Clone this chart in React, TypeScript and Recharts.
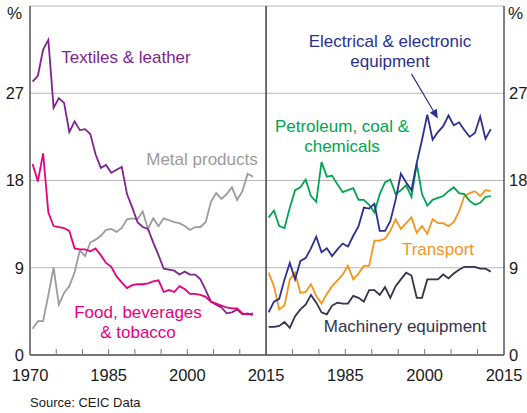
import React from "react";
import { LineChart, Line, XAxis, YAxis, CartesianGrid, ReferenceLine } from "recharts";

const years = [
  1970, 1971, 1972, 1973, 1974, 1975, 1976, 1977, 1978, 1979, 1980, 1981, 1982, 1983, 1984,
  1985, 1986, 1987, 1988, 1989, 1990, 1991, 1992, 1993, 1994, 1995, 1996, 1997, 1998, 1999,
  2000, 2001, 2002, 2003, 2004, 2005, 2006, 2007, 2008, 2009, 2010, 2011, 2012,
];

// left panel
const textiles = [
  28.2, 28.8, 31.5, 32.5, 25.5, 26.5, 26.0, 23.0, 24.1, 23.2, 23.3, 22.8, 20.7, 19.3, 19.6,
  18.8, 19.1, 19.4, 16.6, 15.2, 13.7, 13.2, 13.0, 11.6, 10.3, 8.9, 8.8, 8.7, 8.3, 8.6,
  8.3, 8.3, 7.8, 6.7, 5.5, 5.2, 4.9, 4.3, 4.4, 4.7, 4.2, 4.3, 4.1,
];
const food = [
  19.7, 17.9, 20.8, 14.7, 13.3, 13.2, 13.1, 12.8, 11.0, 10.9, 10.9, 10.7, 11.0, 10.3, 9.5,
  9.1, 8.1, 7.5, 6.9, 7.2, 7.3, 7.3, 7.4, 7.6, 7.7, 6.5, 6.7, 6.5, 7.1, 6.8,
  6.3, 6.3, 6.2, 6.0, 5.5, 5.3, 5.1, 4.9, 4.8, 4.8, 4.3, 4.2, 4.3,
];
const metal = [
  2.7, 3.5, 3.5, 6.2, 9.0, 5.2, 6.4, 7.1, 8.5, 10.8, 10.2, 11.6, 11.9, 12.3, 12.9,
  13.0, 12.7, 13.1, 14.0, 14.1, 14.0, 14.8, 13.0, 14.1, 13.3, 14.1, 13.9, 13.7, 13.6, 13.3,
  12.9, 13.2, 13.2, 13.7, 15.8, 16.7, 16.1, 16.6, 17.3, 16.0, 16.9, 18.7, 18.4,
];

// right panel
const electrical = [
  4.4, 5.5, 5.8, 7.8, 9.5, 7.8, 9.7, 10.0, 11.0, 12.2, 10.6, 11.0, 10.2, 10.9, 11.5,
  11.2, 12.3, 13.3, 15.2, 15.1, 15.6, 12.8, 12.8, 13.8, 16.0, 18.7, 17.8, 17.0, 19.8, 22.2,
  24.8, 22.2, 23.0, 23.6, 24.7, 23.7, 24.0, 23.2, 22.5, 22.9, 24.6, 22.3, 23.3,
];
const petroleum = [
  14.2, 14.9, 13.3, 13.1, 15.2, 17.0, 17.3, 18.1, 16.4, 15.8, 19.9, 18.4, 18.5, 17.6, 16.8,
  17.0, 17.2, 16.0, 16.0, 15.5, 14.7, 16.6, 17.8, 18.1, 16.6, 17.0, 17.5, 16.3, 19.7, 16.6,
  15.4, 16.0, 16.2, 16.4, 16.9, 17.3, 16.7, 16.6, 15.9, 15.5, 15.7, 16.3, 16.4,
];
const transport = [
  8.5, 7.1, 4.7, 5.1, 7.8, 8.5, 6.4, 6.5, 7.3, 6.1, 5.3, 6.3, 7.1, 7.7, 8.3,
  9.2, 7.8, 8.4, 9.2, 9.2, 11.8, 11.8, 12.0, 12.8, 14.0, 13.0, 13.6, 14.2, 12.6, 13.3,
  12.5, 14.0, 13.6, 13.6, 13.3, 13.7, 14.8, 16.4, 16.7, 16.9, 16.4, 17.0, 16.9,
];
const machinery = [
  2.9, 2.9, 3.0, 3.4, 2.8, 4.0, 4.7, 5.2, 6.2, 5.4, 4.4, 4.2, 5.1, 5.4, 5.3,
  5.3, 6.1, 5.9, 5.5, 6.7, 6.7, 6.2, 7.0, 5.9, 7.1, 7.8, 8.5, 8.2, 5.9, 5.9,
  7.8, 7.8, 7.8, 8.3, 7.9, 8.4, 8.8, 9.1, 9.1, 9.1, 8.9, 8.9, 8.6,
];

const yTicks = [0, 9, 18, 27, 36];
const xTicks = [1970, 1975, 1980, 1985, 1990, 1995, 2000, 2005, 2010, 2015];

const leftData = years.map((y, i) => ({
  x: y + 0.5,
  textiles: textiles[i],
  food: food[i],
  metal: metal[i],
}));
const rightData = years.map((y, i) => ({
  x: y + 0.5,
  electrical: electrical[i],
  petroleum: petroleum[i],
  transport: transport[i],
  machinery: machinery[i],
}));

const FONT = "'Liberation Sans', Arial, sans-serif";
const FRAME = "#555";
const GRID = "#b8b8b8";

const C = {
  textiles: "#80258f",
  food: "#e6007e",
  metal: "#9b9b9b",
  electrical: "#2b3090",
  petroleum: "#00a54f",
  transport: "#f7941d",
  machinery: "#33334d",
};

function YearTick(props: any) {
  const { x, y, payload, hideFirst } = props;
  const v = payload.value;
  const showLabel = (v - 1970) % 15 === 0 && !(hideFirst && v === 1970);
  const inner = v !== 1970 && v !== 2015;
  return (
    <g>
      {inner && <line x1={x} x2={x} y1={y} y2={y - 6} stroke="#777" strokeWidth={1} />}
      {showLabel && (
        <text x={x} y={y + 26} textAnchor="middle" fontSize={16.5} fill="#1a1a1a" fontFamily={FONT}>
          {v}
        </text>
      )}
    </g>
  );
}

function Arrow(props: any) {
  const { x1, y1, x2, y2 } = props;
  const a = Math.atan2(y2 - y1, x2 - x1);
  const L = 9;
  const W = 4;
  const bx = x2 - L * Math.cos(a);
  const by = y2 - L * Math.sin(a);
  const px = -Math.sin(a) * W;
  const py = Math.cos(a) * W;
  return (
    <g>
      <line x1={x1} y1={y1} x2={bx} y2={by} stroke={C.electrical} strokeWidth={1.2} />
      <polygon points={`${x2},${y2} ${bx + px},${by + py} ${bx - px},${by - py}`} fill={C.electrical} />
    </g>
  );
}

const labelStyle = (color: string, left: number, top: number, width: number): React.CSSProperties => ({
  position: "absolute",
  left,
  top,
  width,
  textAlign: "center",
  color,
  fontFamily: FONT,
  fontSize: 17,
  lineHeight: "20px",
  whiteSpace: "nowrap",
});

export default function App() {
  const lineProps = { type: "linear" as const, dot: false, strokeWidth: 1.8, isAnimationActive: false };
  return (
    <div style={{ position: "absolute", left: 0, top: 0, width: 527, height: 413, background: "#fff", fontFamily: FONT }}>
      <div style={{ position: "absolute", left: 266, top: 0 }}>
        <LineChart width={261} height={413} data={rightData} margin={{ top: 6, right: 0, left: 0, bottom: 28 }}>
          <CartesianGrid horizontal vertical={false} stroke={GRID} />
          <XAxis
            type="number"
            dataKey="x"
            domain={[1970, 2015]}
            ticks={xTicks}
            interval={0}
            height={30}
            tickSize={0}
            tickMargin={0}
            tickLine={false}
            axisLine={{ stroke: FRAME, strokeWidth: 1.5 }}
            tick={<YearTick hideFirst />}
            allowDataOverflow
          />
          <YAxis
            orientation="right"
            type="number"
            domain={[0, 36]}
            ticks={yTicks}
            width={23}
            tickSize={0}
            tickMargin={5}
            tickLine={false}
            axisLine={{ stroke: FRAME, strokeWidth: 1.5 }}
            tick={{ fontSize: 16.5, fill: "#1a1a1a", fontFamily: FONT }}
            tickFormatter={(v: number) => (v === 36 ? "" : String(v))}
          />
          <ReferenceLine x={1970} stroke={FRAME} strokeWidth={1.5} />
          <ReferenceLine
            segment={[
              { x: 1997.5, y: 29.0 },
              { x: 2002.5, y: 24.4 },
            ]}
            shape={<Arrow />}
          />
          <Line dataKey="machinery" stroke={C.machinery} {...lineProps} />
          <Line dataKey="transport" stroke={C.transport} {...lineProps} />
          <Line dataKey="petroleum" stroke={C.petroleum} {...lineProps} />
          <Line dataKey="electrical" stroke={C.electrical} {...lineProps} />
        </LineChart>
      </div>
      <div style={{ position: "absolute", left: 0, top: 0 }}>
        <LineChart width={296} height={413} data={leftData} margin={{ top: 6, right: 30, left: 0, bottom: 28 }}>
          <CartesianGrid horizontal vertical={false} stroke={GRID} />
          <XAxis
            type="number"
            dataKey="x"
            domain={[1970, 2015]}
            ticks={xTicks}
            interval={0}
            height={30}
            tickSize={0}
            tickMargin={0}
            tickLine={false}
            axisLine={{ stroke: FRAME, strokeWidth: 1.5 }}
            tick={<YearTick />}
            allowDataOverflow
          />
          <YAxis
            type="number"
            domain={[0, 36]}
            ticks={yTicks}
            width={30}
            tickSize={0}
            tickMargin={6}
            tickLine={false}
            axisLine={{ stroke: FRAME, strokeWidth: 1.5 }}
            tick={{ fontSize: 16.5, fill: "#1a1a1a", fontFamily: FONT }}
            tickFormatter={(v: number) => (v === 36 ? "" : String(v))}
          />
          <ReferenceLine x={2015} stroke={FRAME} strokeWidth={1.5} />
          <Line dataKey="metal" stroke={C.metal} {...lineProps} />
          <Line dataKey="textiles" stroke={C.textiles} {...lineProps} />
          <Line dataKey="food" stroke={C.food} {...lineProps} />
        </LineChart>
      </div>

      <div style={{ position: "absolute", left: 7, top: 4, fontSize: 17, color: "#1a1a1a" }}>%</div>
      <div style={{ position: "absolute", left: 508, top: 4, fontSize: 17, color: "#1a1a1a" }}>%</div>

      <div style={labelStyle(C.textiles, 46, 48, 160)}>Textiles &amp; leather</div>
      <div style={labelStyle(C.metal, 132, 150, 140)}>Metal products</div>
      <div style={labelStyle(C.food, 58, 303, 160)}>
        Food, beverages
        <br />
        &amp; tobacco
      </div>
      <div style={labelStyle(C.electrical, 300, 32, 180)}>
        Electrical &amp; electronic
        <br />
        equipment
      </div>
      <div style={labelStyle(C.petroleum, 262, 117, 160)}>
        Petroleum, coal &amp;
        <br />
        chemicals
      </div>
      <div style={labelStyle(C.transport, 388, 240, 100)}>Transport</div>
      <div style={labelStyle(C.machinery, 305, 317, 200)}>Machinery equipment</div>

      <div style={{ position: "absolute", left: 30, top: 395, fontSize: 13, color: "#1a1a1a" }}>Source: CEIC Data</div>
    </div>
  );
}
